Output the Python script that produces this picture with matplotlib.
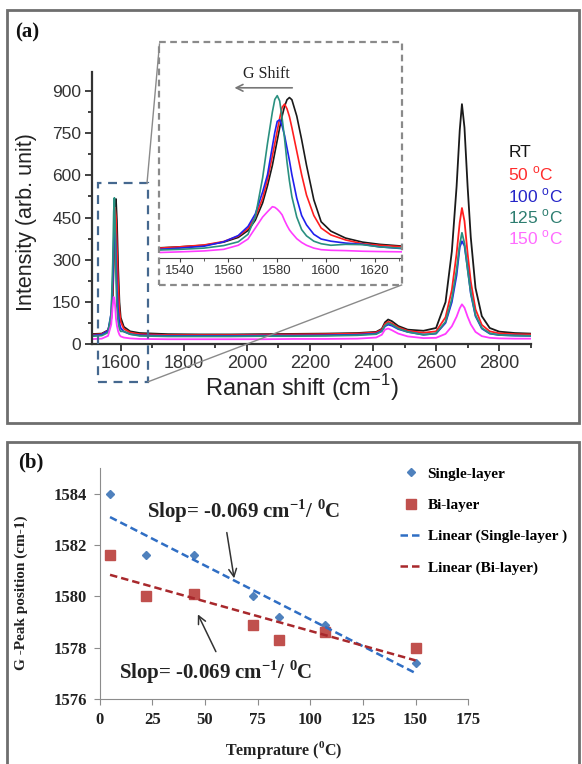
import numpy as np
import matplotlib
matplotlib.use('Agg')
import matplotlib.pyplot as plt
from matplotlib.lines import Line2D
from matplotlib.patches import Rectangle
from matplotlib.ticker import MultipleLocator

plt.rcParams['mathtext.fontset'] = 'custom'
plt.rcParams['mathtext.rm'] = 'Liberation Sans'
plt.rcParams['mathtext.bf'] = 'Liberation Serif:bold'

# ---------------- panel (a) data: Raman spectra ----------------
shift = [1500, 1540, 1560, 1570, 1575, 1578, 1580, 1582, 1585, 1588,
         1592, 1596, 1600, 1610, 1630, 1660, 1750, 1850, 1950, 2050,
         2150, 2250, 2350, 2410, 2428, 2438, 2448, 2460, 2480, 2510,
         2560, 2600, 2630, 2650, 2665, 2675, 2682, 2690, 2700, 2710,
         2725, 2745, 2770, 2800, 2850, 2900]
spec_rt = [36, 38, 50, 90, 170, 290, 380, 457, 516, 440,
           270, 150, 95, 62, 46, 40, 36, 35, 35, 36,
           37, 38, 40, 44, 55, 78, 88, 82, 65, 52,
           48, 58, 150, 330, 560, 760, 853, 770, 560, 380,
           200, 100, 58, 45, 40, 38]
spec_50 = [33, 36, 48, 95, 200, 330, 410, 485, 455, 345,
           210, 120, 80, 55, 42, 36, 33, 33, 33, 34,
           35, 36, 38, 42, 52, 72, 80, 74, 60, 48,
           41, 46, 96, 193, 322, 433, 484, 438, 322, 223,
           124, 69, 46, 39, 36, 35]
spec_100 = [30, 34, 48, 110, 230, 360, 440, 425, 315, 195,
            115, 75, 58, 45, 36, 32, 30, 30, 30, 31,
            31, 32, 34, 38, 48, 64, 70, 66, 54, 44,
            34, 38, 76, 150, 245, 345, 366, 350, 270, 180,
            100, 56, 38, 33, 31, 30]
spec_125 = [28, 31, 42, 110, 290, 470, 520, 440, 250, 135,
            80, 55, 46, 46, 36, 30, 28, 28, 28, 29,
            29, 30, 32, 36, 46, 66, 75, 70, 56, 44,
            34, 39, 80, 161, 264, 354, 396, 359, 265, 184,
            103, 58, 39, 33, 31, 30]
spec_150 = [18, 20, 30, 70, 140, 168, 160, 142, 92, 66,
            46, 34, 28, 24, 21, 19, 18, 18, 18, 18,
            19, 19, 20, 24, 34, 52, 56, 50, 38, 28,
            22, 23, 37, 64, 98, 128, 142, 130, 98, 71,
            44, 29, 23, 21, 20, 20]

# zoom on the G band
g_shift = [1532, 1540, 1550, 1558, 1564, 1568, 1571, 1574, 1576, 1578,
           1579, 1580, 1581, 1582, 1583, 1584, 1585, 1586, 1588, 1590,
           1592, 1595, 1598, 1602, 1608, 1615, 1622, 1632]
g_rt = [37, 40, 45, 55, 70, 92, 125, 180, 235, 300,
        340, 380, 420, 457, 488, 509, 516, 509, 457, 382,
        300, 190, 120, 90, 68, 55, 48, 42]
g_50 = [36, 40, 46, 57, 74, 98, 135, 195, 255, 330,
        370, 410, 450, 485, 495, 480, 455, 420, 345, 270,
        205, 140, 100, 78, 62, 50, 45, 40]
g_100 = [32, 36, 42, 56, 76, 105, 145, 215, 270, 360,
         405, 440, 445, 425, 395, 355, 315, 270, 195, 140,
         110, 80, 65, 58, 52, 48, 40, 34]
g_125 = [30, 32, 36, 44, 56, 80, 135, 260, 370, 470,
         510, 522, 505, 450, 385, 310, 250, 200, 135, 95,
         75, 58, 50, 45, 48, 47, 40, 35]
g_150 = [22, 24, 27, 32, 45, 65, 100, 135, 152, 168,
         166, 160, 152, 142, 124, 108, 94, 84, 66, 54,
         45, 36, 31, 29, 28, 26, 25, 24]

temp_labels = ['RT', '50 $^{\\rm o}$C', '100 $^{\\rm o}$C', '125 $^{\\rm o}$C', '150 $^{\\rm o}$C']
line_colors = ['#1a1a1a', '#ff1f1f', '#2020ee', '#2a9080', '#ff3cff']
text_colors = ['#151515', '#ff2b2b', '#2525c8', '#2d7d70', '#ff6bff']

# ---------------- panel (b) data: G peak vs temperature ----------------
temps = [5, 22, 45, 73, 85, 107, 150]
single_layer = [1584.0, 1581.6, 1581.6, 1580.0, 1579.2, 1578.9, 1577.4]
bi_layer = [1581.6, 1580.0, 1580.1, 1578.9, 1578.3, 1578.6, 1578.0]

W, H = 582, 764
fig = plt.figure(figsize=(W / 100, H / 100), dpi=100)


def fx(x):
    return x / W


def fy(y):
    return 1 - y / H


def box(x0, y0, x1, y1):
    return [fx(x0), fy(y1), fx(x1) - fx(x0), fy(y0) - fy(y1)]


# panel frames
for y0, y1 in [(10, 423), (442, 770)]:
    fig.add_artist(Rectangle((fx(7), fy(y1)), fx(579) - fx(7), fy(y0) - fy(y1),
                             transform=fig.transFigure, fill=False,
                             ec='#6e6e6e', lw=2))

sans = 'Liberation Sans'
serif = 'Liberation Serif'

# ================= panel (a) =================
ax = fig.add_axes(box(92.3, 72.3, 530.7, 344.3))
specs = [spec_rt, spec_50, spec_100, spec_125, spec_150]
for s, c in zip(specs, line_colors):
    ax.plot(shift, s, color=c, lw=1.3)
ax.set_xlim(1510, 2900)
ax.set_ylim(0, 966)
ax.xaxis.set_major_locator(MultipleLocator(200))
ax.xaxis.set_minor_locator(MultipleLocator(100))
ax.yaxis.set_major_locator(MultipleLocator(150))
ax.yaxis.set_minor_locator(MultipleLocator(75))
for side in ['top', 'right']:
    ax.spines[side].set_visible(False)
for side in ['left', 'bottom']:
    ax.spines[side].set_color('#333333')
    ax.spines[side].set_linewidth(1.6)
ax.tick_params(which='both', direction='out', color='#333333', width=1.3)
ax.tick_params(which='major', length=5)
ax.tick_params(which='minor', length=3)
ax.tick_params(axis='y', labelsize=12.5, labelcolor='#333333', pad=3)
ax.tick_params(axis='x', labelsize=13, labelcolor='#333333', pad=3)
for lab in ax.get_xticklabels() + ax.get_yticklabels():
    lab.set_fontfamily(sans)
ax.set_ylabel('Intensity (arb. unit)', fontsize=15.5, family=sans, color='#222222')
ax.yaxis.set_label_coords(-(92.3 - 37) / (530.7 - 92.3), 0.45)
ax.set_xlabel('Ranan shift (cm$^{-1}$)', fontsize=17, family=sans, color='#222222')
ax.xaxis.set_label_coords((302 - 92.3) / (530.7 - 92.3), -(372 - 344.3) / (344.3 - 72.3))
ax.xaxis.label.set_va('top')

for i, (lab, c) in enumerate(zip(temp_labels, text_colors)):
    fig.text(fx(508.5), fy(152.7 + 21.4 * i), lab, color=c, fontsize=12.5,
             family=sans, va='center', ha='left')

# blue dashed zoom box + connector lines
fig.add_artist(Rectangle((fx(98.3), fy(381.7)), fx(148.3) - fx(98.3), fy(183.3) - fy(381.7),
                         transform=fig.transFigure, fill=False, ec='#45688f',
                         lw=1.6, ls=(0, (4, 3))))
fig.add_artist(Line2D([fx(147), fx(159.5)], [fy(183.3), fy(44)],
                      transform=fig.transFigure, color='#8a8a8a', lw=1))
fig.add_artist(Line2D([fx(148.3), fx(401.6)], [fy(381.7), fy(285)],
                      transform=fig.transFigure, color='#8a8a8a', lw=1))

# inset
axi = fig.add_axes(box(159, 41.7, 401.6, 258.3))
axi.patch.set_facecolor('white')
gspecs = [g_rt, g_50, g_100, g_125, g_150]
for s, c in zip(gspecs, line_colors):
    axi.plot(g_shift, s, color=c, lw=1.2)
axi.set_xlim(1531.5, 1631)
axi.set_ylim(3.5, 694)
axi.set_yticks([])
axi.xaxis.set_major_locator(MultipleLocator(20))
axi.xaxis.set_minor_locator(MultipleLocator(10))
for side in ['top', 'right', 'left']:
    axi.spines[side].set_visible(False)
axi.spines['bottom'].set_color('#444444')
axi.tick_params(which='both', direction='out', color='#444444')
axi.tick_params(which='major', length=3)
axi.tick_params(which='minor', length=2)
axi.tick_params(axis='x', labelsize=9.5, labelcolor='#333333', pad=2)
for lab in axi.get_xticklabels():
    lab.set_fontfamily(sans)
axi.text(1575.4, 590, 'G Shift', fontsize=11.5, family=serif, ha='center', va='center',
         color='#222222')
axi.annotate('', xy=(1561.3, 547), xytext=(1587.3, 547),
             arrowprops=dict(arrowstyle='->', color='#777777', lw=1.2, mutation_scale=12))
fig.add_artist(Rectangle((fx(158.9), fy(285)), fx(401.6) - fx(158.9), fy(41.7) - fy(285),
                         transform=fig.transFigure, fill=False, ec='#8a8a8a',
                         lw=1.6, ls=(0, (3, 2))))

fig.text(fx(15), fy(32), '(a)', fontsize=15, family=serif, fontweight='bold',
         va='center', ha='left', color='#111111')

# ================= panel (b) =================
bx = fig.add_axes(box(99.5, 468.3, 468.3, 699))
sl_color = '#4f81bd'
bl_color = '#c0504d'
bx.plot(temps, single_layer, ls='none', marker='D', ms=4.5, color=sl_color)
bx.plot(temps, bi_layer, ls='none', marker='s', ms=6.5, color=bl_color)

k1, b1 = np.polyfit(temps, single_layer, 1)
k2, b2 = np.polyfit(temps, bi_layer, 1)
tt = np.array([temps[0], temps[-1]])
bx.plot(tt, k1 * tt + b1, ls=(0, (3, 1.6)), color='#2f6ec4', lw=1.8)
bx.plot(tt, k2 * tt + b2, ls=(0, (3, 1.6)), color='#a8282c', lw=1.8)

bx.set_xlim(0, 175)
bx.set_ylim(1576, 1585)
bx.set_xticks(range(0, 176, 25))
bx.set_yticks(range(1576, 1585, 2))
for side in ['top', 'right']:
    bx.spines[side].set_visible(False)
for side in ['left', 'bottom']:
    bx.spines[side].set_color('#8c8c8c')
bx.tick_params(which='both', direction='out', length=4, color='#8c8c8c',
               labelsize=12, pad=5)
for lab in bx.get_xticklabels() + bx.get_yticklabels():
    lab.set_fontfamily(serif)
    lab.set_fontweight('bold')
    lab.set_color('#222222')
bx.set_ylabel('G -Peak position (cm-1)', fontsize=11, family=serif, fontweight='bold',
              color='#222222')
bx.yaxis.set_label_coords(-(99.5 - 28) / (468.3 - 99.5), 0.46)
bx.set_xlabel('Temprature ($^{\\mathbf{0}}$C)', fontsize=11.5, family=serif,
              fontweight='bold', color='#222222', labelpad=8)

slope_txt = 'Slop= -0.069 cm$^{\\mathbf{-1}}$/ $^{\\mathbf{0}}$C'
bx.text(68.6, 1583.33, slope_txt, fontsize=15, family=serif, fontweight='bold',
        ha='center', va='center', color='#222222')
bx.text(55.0, 1577.05, slope_txt, fontsize=15, family=serif, fontweight='bold',
        ha='center', va='center', color='#222222')
bx.annotate('', xy=(64.1, 1580.6), xytext=(60.2, 1582.6),
            arrowprops=dict(arrowstyle='->', color='#333333', lw=1.1, mutation_scale=14))
bx.annotate('', xy=(46.1, 1579.4), xytext=(55.8, 1577.75),
            arrowprops=dict(arrowstyle='->', color='#333333', lw=1.1, mutation_scale=14))

handles = [Line2D([], [], ls='none', marker='D', ms=4.5, color=sl_color),
           Line2D([], [], ls='none', marker='s', ms=6.5, color=bl_color),
           Line2D([], [], ls=(0, (3, 1.6)), lw=1.8, color='#2f6ec4'),
           Line2D([], [], ls=(0, (3, 1.6)), lw=1.8, color='#a8282c')]
names = ['Single-layer', 'Bi-layer', 'Linear (Single-layer )', 'Linear (Bi-layer)']
leg = fig.legend(handles, names, loc='upper left', bbox_to_anchor=(fx(400), fy(467)),
                 bbox_transform=fig.transFigure, frameon=False, borderpad=0,
                 borderaxespad=0, handlelength=1.45, handletextpad=0.35,
                 labelspacing=1.15, prop={'family': serif, 'weight': 'bold', 'size': 11})

fig.text(fx(18), fy(462), '(b)', fontsize=15, family=serif, fontweight='bold',
         va='center', ha='left', color='#111111')

fig.savefig('out.png', dpi=100)
